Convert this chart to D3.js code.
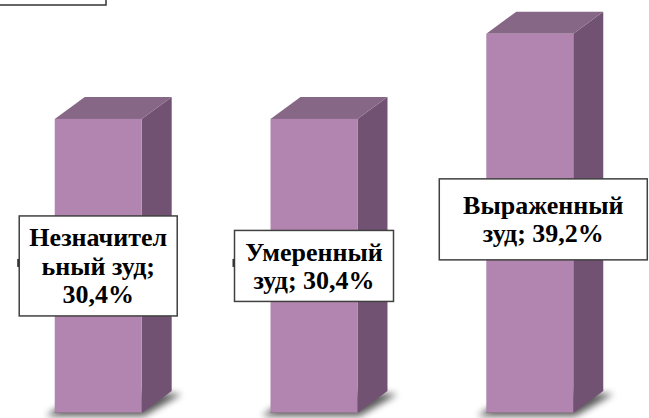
<!DOCTYPE html>
<html>
<head>
<meta charset="utf-8">
<script src="https://cdn.jsdelivr.net/npm/d3@7"></script>
<style>
  html, body { margin: 0; padding: 0; background: #fff; }
  svg { display: block; }
</style>
</head>
<body>
<div id="chart"></div>
<script>
// data
var categories = ["Незначительный зуд", "Умеренный зуд", "Выраженный зуд"]
var values = [30.4, 30.4, 39.2]

var width = 649,
    height = 418
var depthX = 30,
    depthY = -22
var fontSize = 26,
    lineH = 28.5
var fontFamily = "'Liberation Serif', 'Times New Roman', monospace"

var colors = { front: "#b285b0", side: "#725273", top: "#866886" }

// label boxes (size + nudge), one per bar
var boxes = [
    { w: 158, h: 100, dx: 0, dy: 0, maxW: 146 },
    { w: 159, h: 71, dx: 0, dy: 0, maxW: 146 },
    { w: 208, h: 81, dx: 13.5, dy: -4, maxW: 180 }
]

var svg = d3.select("#chart").append("svg")
    .attr("width", width)
    .attr("height", height)

var defs = svg.append("defs")
defs.append("filter")
    .attr("id", "shadow")
    .attr("x", "-30%").attr("y", "-30%")
    .attr("width", "160%").attr("height", "160%")
    .append("feGaussianBlur")
    .attr("stdDeviation", 3.5)

//------------------------------------------
// scales
//------------------------------------------
var x = d3.scaleBand()
    .domain(categories)
    .range([-10, 638])
    .paddingInner(0.597)
    .paddingOuter(0.3)

var y = d3.scaleLinear()
    .domain([0, 40])
    .range([413, 26])

var bw = x.bandwidth()

// box cut off at the top left
svg.append("rect")
    .attr("x", -5).attr("y", -20)
    .attr("width", 111).attr("height", 25)
    .style("fill", "#fff")
    .style("stroke", "#333")
    .style("stroke-width", 1.5)

//------------------------------------------
// bars
//------------------------------------------
var bars = svg.selectAll(".bar")
    .data(values)
    .enter()
    .append("g")
    .attr("class", "bar")

var pts = function (arr) {
    return arr.map(function (p) { return p.join(",") }).join(" ")
}

// soft shadow under the base
bars.append("polygon")
    .attr("points", function (d, i) {
        var x0 = x(categories[i]), x1 = x0 + bw, b = y(0)
        return pts([[x0 - 9, b + 3], [x1 + 2, b + 3], [x1 + depthX + 10, b + depthY + 3], [x0 + depthX, b + depthY]])
    })
    .style("fill", "#000")
    .style("opacity", 0.65)
    .attr("filter", "url(#shadow)")

// side
bars.append("polygon")
    .attr("points", function (d, i) {
        var x1 = x(categories[i]) + bw, t = y(d), b = y(0)
        return pts([[x1, t], [x1 + depthX, t + depthY], [x1 + depthX, b + depthY], [x1, b]])
    })
    .style("fill", colors.side)

// top
bars.append("polygon")
    .attr("points", function (d, i) {
        var x0 = x(categories[i]), x1 = x0 + bw, t = y(d)
        return pts([[x0, t], [x0 + depthX, t + depthY], [x1 + depthX, t + depthY], [x1, t]])
    })
    .style("fill", colors.top)

// front
bars.append("rect")
    .attr("x", function (d, i) { return x(categories[i]) })
    .attr("y", function (d) { return y(d) })
    .attr("width", bw)
    .attr("height", function (d) { return y(0) - y(d) })
    .style("fill", colors.front)

bars.append("line")
    .attr("x1", function (d, i) { return x(categories[i]) })
    .attr("x2", function (d, i) { return x(categories[i]) + bw })
    .attr("y1", y(0) - 0.5).attr("y2", y(0) - 0.5)
    .style("stroke", "#8f7a8e")
    .style("stroke-width", 1)

//------------------------------------------
// data labels
//------------------------------------------
var fmt = function (v) { return d3.format(".1f")(v).replace(".", ",") + "%" }

var measure = svg.append("text")
    .style("font-family", fontFamily)
    .style("font-weight", "bold")
    .style("font-size", fontSize + "px")
var textW = function (s) { measure.text(s); return measure.node().getComputedTextLength() }

function wrap(str, maxW) {
    var words = str.split(" "), lines = [], line = ""
    words.forEach(function (w) {
        var cand = line ? line + " " + w : w
        if (textW(cand) <= maxW) { line = cand; return }
        if (line) lines.push(line)
        line = w
        while (textW(line) > maxW) {
            var k = line.length - 1
            while (k > 1 && textW(line.slice(0, k)) > maxW) k--
            lines.push(line.slice(0, k))
            line = line.slice(k)
        }
    })
    if (line) lines.push(line)
    return lines
}

var labels = svg.selectAll(".label")
    .data(values)
    .enter()
    .append("g")
    .attr("class", "label")
    .attr("transform", function (d, i) {
        var cx = x(categories[i]) + bw / 2 + boxes[i].dx
        var cy = (y(d) + y(0)) / 2 + boxes[i].dy
        return "translate(" + cx + "," + cy + ")"
    })

labels.append("rect")
    .attr("x", function (d, i) { return -boxes[i].w / 2 })
    .attr("y", function (d, i) { return -boxes[i].h / 2 })
    .attr("width", function (d, i) { return boxes[i].w })
    .attr("height", function (d, i) { return boxes[i].h })
    .style("fill", "#fff")
    .style("stroke", "#404040")
    .style("stroke-width", 1.5)

labels.filter(function (d, i) { return i < 2 })
    .append("rect")
    .attr("x", function (d, i) { return -boxes[i].w / 2 - 2 })
    .attr("y", -7)
    .attr("width", 2).attr("height", 8)
    .style("fill", "#333")

labels.each(function (d, i) {
    var lines = wrap(categories[i] + "; " + fmt(d), boxes[i].maxW)
    var n = lines.length
    d3.select(this).selectAll("text")
        .data(lines)
        .enter()
        .append("text")
        .attr("x", 0)
        .attr("y", function (t, j) { return (j - (n - 1) / 2) * lineH + fontSize * 0.34 })
        .attr("text-anchor", "middle")
        .style("font-family", fontFamily)
        .style("font-weight", "bold")
        .style("font-size", fontSize + "px")
        .style("fill", "#000")
        .text(function (t) { return t })
})

measure.remove()
</script>
</body>
</html>
